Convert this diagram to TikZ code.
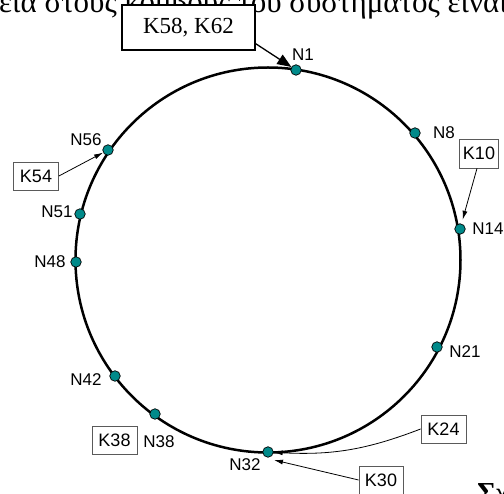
\documentclass[tikz,border=0pt]{standalone}
\usepackage{fontspec}
\setmainfont{Liberation Serif}
\newfontfamily\lsans{Liberation Sans}
\usetikzlibrary{arrows.meta}
\definecolor{dotteal}{RGB}{0,138,138}
\definecolor{boxgray}{RGB}{90,90,90}
\tikzset{
  ringdot/.style={circle,draw=black,line width=0.7pt,fill=dotteal,minimum size=10.5pt,inner sep=0pt},
  nlabel/.style={font=\lsans\fontsize{17}{17}\selectfont,inner sep=0pt},
  kbox/.style={draw=boxgray,line width=0.8pt,fill=white,font=\lsans\fontsize{18}{18}\selectfont,inner sep=0pt,minimum width=45pt,minimum height=28pt},
  bigbox/.style={draw=black,line width=1.3pt,fill=white,font=\fontsize{23}{23}\selectfont,inner sep=0pt,minimum width=133pt,minimum height=45pt},
  karrow/.style={line width=0.8pt,-{Latex[length=9pt,width=5pt]}},
  bigarrow/.style={line width=1.3pt,-{Triangle[length=14pt,width=11pt]}},
  ring/.style={line width=2.5pt}
}
\begin{document}
\begin{tikzpicture}[x=1pt,y=-1pt]
\clip (0,0) rectangle (504,494);
\fill[white] (0,0) rectangle (504,494);
% partial page text
\node[anchor=base west,inner sep=0pt,font=\fontsize{31}{31}\selectfont] (toptext) at (-1,13) {εια στους κόμβους του συστήματος είναι};
\node[anchor=base west,inner sep=0pt,font=\bfseries\fontsize{29}{29}\selectfont] (fig) at (477,503) {Σχ};
% ring
\draw[ring] (268,260) circle (192.5);
% nodes on ring
\node[ringdot] (n1) at (296,70) {};
\node[ringdot] (n8) at (415,133) {};
\node[ringdot] (n14) at (460,229) {};
\node[ringdot] (n21) at (437,347) {};
\node[ringdot] (n32) at (268,452) {};
\node[ringdot] (n38) at (155,414) {};
\node[ringdot] (n42) at (115,376) {};
\node[ringdot] (n48) at (76,262) {};
\node[ringdot] (n51) at (80,214) {};
\node[ringdot] (n56) at (108,150) {};
% labels
\node[nlabel] (l1) at (303,55) {N1};
\node[nlabel] (l8) at (444,133) {N8};
\node[nlabel] (l14) at (488,229) {N14};
\node[nlabel] (l21) at (465,352) {N21};
\node[nlabel] (l32) at (245,465) {N32};
\node[nlabel] (l38) at (159,442) {N38};
\node[nlabel] (l42) at (86,380) {N42};
\node[nlabel] (l48) at (50,262) {N48};
\node[nlabel] (l51) at (57,212) {N51};
\node[nlabel] (l56) at (86,140) {N56};
% key boxes
\node[bigbox] (k58) at (188.5,27.5) {K58, K62};
\node[kbox] (k54) at (36,176) {K54};
\node[kbox,minimum width=39pt,minimum height=29pt] (k10) at (479,153.5) {K10};
\node[kbox] (k38) at (114.5,440) {K38};
\node[kbox] (k24) at (443.5,429) {K24};
\node[kbox,minimum width=44pt] (k30) at (381,480) {K30};
\coordinate (k30tip) at (274,460);
% arrows
\draw[bigarrow] ([yshift=7pt]k58.south east) -- (n1);
\draw[karrow] (k54.east) -- (n56);
\draw[karrow,shorten >=4pt] ([xshift=-2pt]k10.south) -- (n14);
\draw[karrow] (k24.west) to[bend left=12] (n32);
\draw[karrow] (k30.west) -- (k30tip);
\end{tikzpicture}
\end{document}
